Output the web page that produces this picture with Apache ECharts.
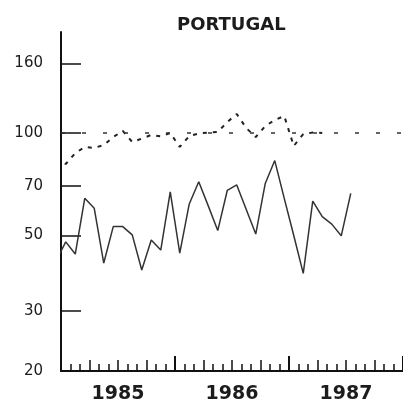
<!DOCTYPE html>
<html>
<head>
<meta charset="utf-8">
<script src="https://cdn.jsdelivr.net/npm/echarts@6/dist/echarts.min.js"></script>
<style>
  html, body { margin: 0; padding: 0; background: #fff; }
  #chart { width: 403px; height: 410px; }
</style>
</head>
<body>
<div id="chart"></div>
<script>
// monthly values, first one is Dec 1984 (clipped by the axis)
var firstMonth = -1;
var solidValues = [42.2, 47.9, 44.1, 64.3, 60.1, 41.5, 53.1, 53.1, 50.2, 39.6, 48.5, 45.3, 67.2,
    44.4, 61.9, 71.9, 61.1, 51.7, 67.8, 70.4, 59.6, 50.5, 71.1, 83.0, 64.3, 50.0,
    38.7, 63.1, 56.8, 54.0, 49.9, 66.5];
var dashedValues = [84.4, 81.1, 87.3, 91.0, 90.4, 92.2, 97.3, 101.4, 94.1, 96.3, 98.7, 97.7, 100,
    91.0, 98.0, 99.7, 100.3, 100.7, 107.7, 113.7, 103.4, 97.3, 104.8, 109.2, 112.2,
    91.6, 99.3, 100.3, 100];
var refLevel = 100;
var years = ['1985', '1986', '1987'];
var yTicks = [20, 30, 50, 70, 100, 160];

// month index -> [x, value], plotted at mid-month
function toPoints(values) {
    return values.map(function (v, i) {
        return [firstMonth + i + 0.5, v];
    });
}

var txt = '#1c1c1c';
var chart = echarts.init(document.getElementById('chart'));
chart.setOption({
    animation: false,
    backgroundColor: '#fff',
    title: {
        text: 'PORTUGAL',
        left: 172,
        top: 11,
        textStyle: { fontFamily: 'DejaVu Sans', fontSize: 18, fontWeight: 'bold', color: txt }
    },
    grid: { left: 61, right: -2, top: 32, bottom: 39 },
    xAxis: [{
        type: 'value',
        min: 0,
        max: 36,
        interval: 12,
        axisLine: { onZero: false, lineStyle: { color: '#111', width: 2 } },
        axisTick: { inside: true, length: 15, lineStyle: { color: '#111', width: 2 } },
        minorTick: { show: true, splitNumber: 12, length: 7, lineStyle: { color: '#111', width: 1.5 } },
        splitLine: { show: false },
        axisLabel: {
            customValues: [6, 18, 30],
            margin: 14,
            fontFamily: 'DejaVu Sans',
            fontSize: 19,
            fontWeight: 'bold',
            color: txt,
            formatter: function (v) { return years[Math.round((v - 6) / 12)]; }
        }
    }, {
        // quarter ticks
        type: 'value',
        position: 'bottom',
        min: 0,
        max: 36,
        interval: 3,
        axisLine: { show: false, onZero: false },
        axisTick: { inside: true, length: 11, lineStyle: { color: '#111', width: 1.5 } },
        axisLabel: { show: false },
        splitLine: { show: false }
    }],
    yAxis: {
        type: 'log',
        min: 20,
        max: 198,
        axisLine: { show: true, lineStyle: { color: '#111', width: 2 } },
        axisTick: { inside: true, length: 20, customValues: yTicks, lineStyle: { color: '#111', width: 1.5 } },
        splitLine: { show: false },
        minorTick: { show: false },
        axisLabel: {
            customValues: yTicks,
            margin: 18,
            fontFamily: 'DejaVu Sans',
            fontSize: 15,
            color: txt
        }
    },
    series: [{
        type: 'line',
        data: toPoints(solidValues),
        symbol: 'none',
        lineStyle: { color: '#333', width: 1.5 }
    }, {
        type: 'line',
        data: toPoints(dashedValues),
        symbol: 'none',
        lineStyle: { color: '#222', width: 2, type: [4, 6] },
        markLine: {
            silent: true,
            symbol: 'none',
            label: { show: false },
            lineStyle: { color: '#333', width: 1.5, type: [4, 17] },
            data: [{ yAxis: refLevel }]
        }
    }]
});
</script>
</body>
</html>
